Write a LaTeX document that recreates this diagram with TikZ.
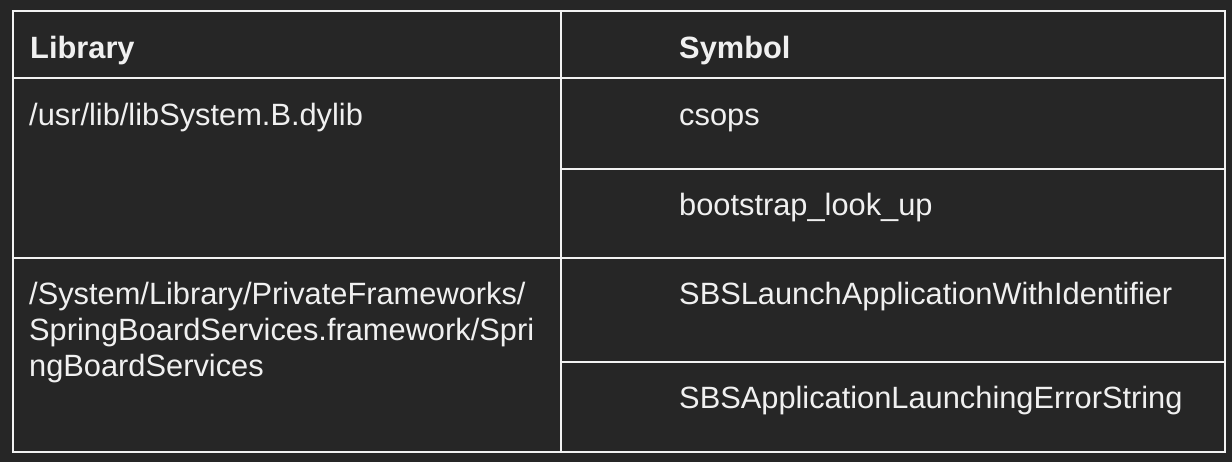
\documentclass[tikz,border=0pt]{standalone}
\usepackage{fontspec}
\setmainfont{Liberation Sans}
\usetikzlibrary{positioning}
\definecolor{bgdark}{HTML}{262626}
\definecolor{gridline}{HTML}{F2F2F2}
\definecolor{celltext}{HTML}{F0F0F0}

\begin{document}
\begin{tikzpicture}[x=1pt,y=-1pt,
    cell/.style={anchor=base west, inner sep=0pt, text=celltext, font=\fontsize{30.8}{36}\selectfont},
    headcell/.style={cell, font=\fontsize{30.8}{36}\selectfont\bfseries},
    rule/.style={gridline, line width=2pt}]
            \fill[bgdark] (0,0) rectangle (1232,462);
            \useasboundingbox (0,0) rectangle (1232,462);
            % table frame
            \coordinate (tl) at (13,11);
            \coordinate (br) at (1225,452);
            \coordinate (coltop) at (561,11);
            \coordinate (colbot) at (561,452);
            \draw[rule] (tl) rectangle (br);
            \draw[rule] (coltop) -- (colbot);
            \draw[rule] (13,78) -- (1225,78);
            \draw[rule] (13,258) -- (1225,258);
            \draw[rule] (561,169) -- (1225,169);
            \draw[rule] (561,362) -- (1225,362);
            % header
            \node[headcell] (hlib) at (30,59) {Library};
            \node[headcell] (hsym) at (679,59) {Symbol};
            % libSystem
            \node[cell] (libsys) at (29,126) {/usr/lib/libSystem.B.dylib};
            \node[cell] (csops) at (679,126) {csops};
            \node[cell] (bslookup) at (679,216) {bootstrap\_look\_up};
            % SpringBoardServices
            \node[cell] (sbsa) at (29,305) {/System/Library/PrivateFrameworks/};
            \node[cell] (sbsb) at ([yshift=-36pt]sbsa.base west) {SpringBoardServices.framework/Spri};
            \node[cell] (sbsc) at ([yshift=-36pt]sbsb.base west) {ngBoardServices};
            \node[cell] (launch) at (679,305) {SBSLaunchApplicationWithIdentifier};
            \node[cell] (errstr) at (679,408) {SBSApplicationLaunchingErrorString};
        \end{tikzpicture}
\end{document}
